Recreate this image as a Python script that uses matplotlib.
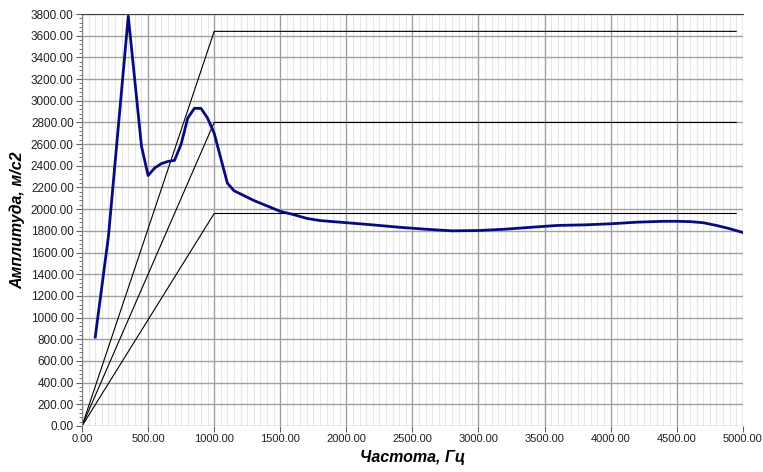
import numpy as np
import matplotlib.pyplot as plt
from matplotlib.ticker import MultipleLocator, FormatStrFormatter

# Measured spectrum (frequency, Hz -> amplitude, m/s2)
freq = [100, 200, 350, 450, 500, 550, 600, 650, 700, 750, 800, 850, 900,
        950, 1000, 1050, 1100, 1150, 1200, 1300, 1400, 1500, 1600, 1700,
        1800, 1900, 2000, 2200, 2400, 2600, 2800, 3000, 3200, 3400, 3600,
        3800, 4000, 4200, 4400, 4500, 4600, 4700, 4800, 4900, 5000]
ampl = [820, 1750, 3780, 2580, 2310, 2380, 2420, 2440, 2450, 2600, 2840,
        2930, 2930, 2840, 2700, 2470, 2240, 2170, 2140, 2080, 2030, 1980,
        1950, 1915, 1895, 1885, 1875, 1855, 1833, 1815, 1800, 1803, 1815,
        1833, 1850, 1855, 1865, 1880, 1888, 1888, 1885, 1875, 1850, 1820,
        1785]

# Limit profiles (nominal and +/-30 %)
lim_freq = [0, 1000, 4950]
lim_upper = [0, 3640, 3640]
lim_nominal = [0, 2800, 2800]
lim_lower = [0, 1960, 1960]

plt.rcParams['font.family'] = ['Liberation Sans', 'DejaVu Sans']

fig = plt.figure(figsize=(7.63, 4.72), dpi=100)
ax = fig.add_axes([0.1075, 0.0975, 0.866, 0.8728])

# grid
ax.xaxis.set_major_locator(MultipleLocator(500))
ax.xaxis.set_minor_locator(MultipleLocator(50))
ax.yaxis.set_major_locator(MultipleLocator(200))
ax.yaxis.set_minor_locator(MultipleLocator(40))
ax.grid(True, which='major', axis='both', color='#a0a0a0', linewidth=1.0)
ax.grid(True, which='minor', axis='x', color='#e6e6e6', linewidth=0.8)
ax.set_axisbelow(True)

for lv in (lim_upper, lim_nominal, lim_lower):
    ax.plot(lim_freq, lv, color='black', linewidth=0.8)

ax.plot(freq, ampl, color='#0a0a80', linewidth=2.0, solid_joinstyle='round')

ax.set_xlim(0, 5000)
ax.set_ylim(0, 3800)
ax.xaxis.set_major_formatter(FormatStrFormatter('%.2f'))
ax.yaxis.set_major_formatter(FormatStrFormatter('%.2f'))

ax.tick_params(axis='both', which='major', length=4, pad=2,
               color='#606060', labelcolor='#202020')
ax.tick_params(axis='x', which='major', labelsize=8)
ax.tick_params(axis='y', which='major', labelsize=8.5)
ax.tick_params(axis='x', which='minor', length=0)
ax.tick_params(axis='y', which='minor', length=2.5, color='#606060')

ax.spines['right'].set_visible(False)
ax.spines['bottom'].set_visible(False)
ax.spines['top'].set_color('#404040')
ax.spines['left'].set_color('#808080')

ax.set_xlabel('Частота, Гц', fontsize=11.5, fontweight='bold',
              style='italic', labelpad=4)
ax.set_ylabel('Амплитуда, м/с2', fontsize=11.5, fontweight='bold',
              style='italic', labelpad=4)

fig.savefig('out.png', dpi=100)
